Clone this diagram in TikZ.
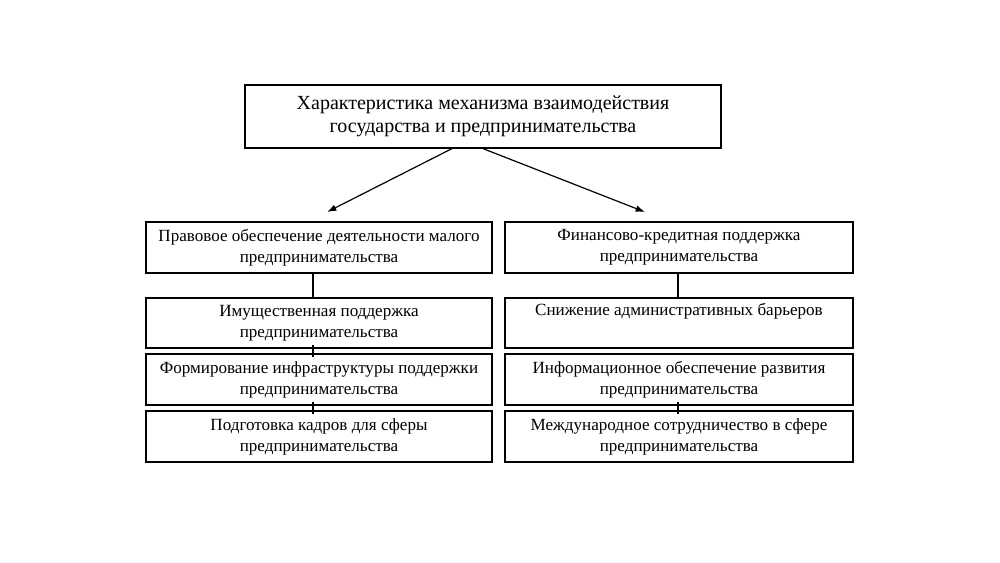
\documentclass[tikz,border=0pt]{standalone}
\usepackage{fontspec}
\setmainfont{Liberation Serif}
\usetikzlibrary{arrows.meta}
\tikzset{
  box/.style={draw, line width=0.9pt, rectangle, align=center, inner sep=0pt,
    font=\fontsize{12.8}{15.75}\selectfont},
  lbox/.style={box, minimum width=346*0.75pt, minimum height=51*0.75pt},
  rbox/.style={box, minimum width=348*0.75pt, minimum height=51*0.75pt},
  topbox/.style={box, minimum width=476*0.75pt, minimum height=63*0.75pt,
    font=\fontsize{15}{17.25}\selectfont},
  conn/.style={line width=0.9pt},
  arr/.style={line width=0.9pt, -{Latex[length=7pt,width=5pt]}}
}
\begin{document}
\begin{tikzpicture}[x=0.75pt,y=-0.75pt]
\useasboundingbox (0,0) rectangle (1000,562);
\node[topbox] (top) at (483,116.5) {Характеристика механизма взаимодействия\\государства и предпринимательства};

\node[lbox] (l1) at (319,247.5) {Правовое обеспечение деятельности малого\\предпринимательства};
\node[lbox, minimum height=50*0.75pt] (l2) at (319,323) {Имущественная поддержка\\предпринимательства};
\node[lbox] (l3) at (319,379.5) {Формирование инфраструктуры поддержки\\предпринимательства};
\node[lbox] (l4) at (319,436.5) {Подготовка кадров для сферы\\предпринимательства};

\node[rbox] (r1) at (679,247.5) {Финансово-кредитная поддержка\\предпринимательства};
\node[rbox, minimum height=50*0.75pt] (r2) at (679,323) {Снижение административных барьеров\\\strut};
\node[rbox] (r3) at (679,379.5) {Информационное обеспечение развития\\предпринимательства};
\node[rbox] (r4) at (679,436.5) {Международное сотрудничество в сфере\\предпринимательства};

\coordinate (aL) at (327,212);
\coordinate (aR) at (645,212);
\draw[arr] ([xshift=-31*0.75pt]top.south) -- (aL);
\draw[arr] (top.south) -- (aR);

\draw[conn] (l1.south -| 313,0) -- (l2.north -| 313,0);
\draw[conn] ([yshift=4*0.75pt]l2.south -| 313,0) -- ([yshift=-4*0.75pt]l3.north -| 313,0);
\draw[conn] ([yshift=4*0.75pt]l3.south -| 313,0) -- ([yshift=-4*0.75pt]l4.north -| 313,0);

\draw[conn] (r1.south -| 678,0) -- (r2.north -| 678,0);
\draw[conn] ([yshift=4*0.75pt]r3.south -| 678,0) -- ([yshift=-4*0.75pt]r4.north -| 678,0);
\end{tikzpicture}
\end{document}
